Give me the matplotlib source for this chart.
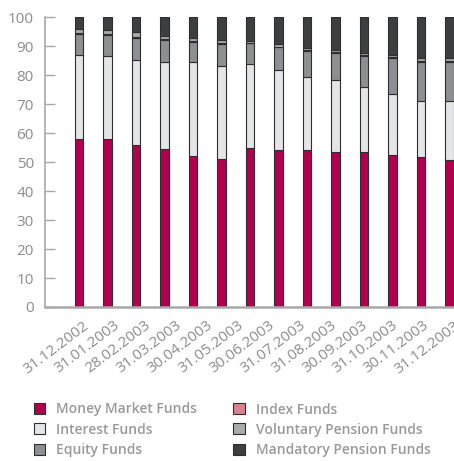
import matplotlib
matplotlib.use('Agg')
import matplotlib.pyplot as plt
import numpy as np

# dates printed under the axis (13 labels, 14 bars in the source chart)
dates = ['31.12.2002', '31.01.2003', '28.02.2003', '31.03.2003', '30.04.2003',
         '31.05.2003', '30.06.2003', '31.07.2003', '31.08.2003', '30.09.2003',
         '31.10.2003', '30.11.2003', '31.12.2003']

# share of each fund type, in %, bottom to top of each bar
money_market = [57.8, 57.8, 55.8, 54.4, 52.1, 50.9, 54.8, 54.0, 54.0, 53.5, 53.6, 52.5, 51.6, 50.6]
interest = [29.0, 28.6, 29.5, 30.0, 32.3, 32.1, 28.9, 27.8, 25.4, 24.8, 22.4, 20.9, 19.4, 20.4]
equity = [7.3, 7.4, 7.6, 7.6, 7.1, 7.7, 7.2, 7.7, 9.0, 9.4, 10.6, 12.4, 13.5, 13.4]
index = [0.3, 0.3, 0.3, 0.3, 0.3, 0.3, 0.3, 0.3, 0.3, 0.3, 0.3, 0.3, 0.3, 0.3]
voluntary = [1.6, 1.3, 1.5, 1.2, 1.1, 0.9, 0.6, 0.8, 0.7, 0.6, 0.8, 0.8, 1.2, 1.1]
mandatory = [4.0, 4.6, 5.3, 6.5, 7.1, 8.1, 8.2, 9.4, 10.6, 11.4, 12.3, 13.1, 14.0, 14.2]

series = [
    ('Money Market Funds', money_market, '#b3004e'),
    ('Interest Funds', interest, '#e4e5e7'),
    ('Equity Funds', equity, '#8e8f92'),
    ('Index Funds', index, '#d9818e'),
    ('Voluntary Pension Funds', voluntary, '#a9aaac'),
    ('Mandatory Pension Funds', mandatory, '#3d3e40'),
]

grey = '#8c8c8c'
fig = plt.figure(figsize=(4.54, 4.61), dpi=100)
ax = fig.add_axes([45 / 454, 154 / 461, 409 / 454, 290 / 461])

x = np.arange(len(money_market))
bottom = np.zeros(len(x))
handles = []
for name, vals, col in series:
    b = ax.bar(x, vals, width=0.29, bottom=bottom, color=col, edgecolor='#2e2e2e',
               linewidth=0.8, label=name)
    handles.append(b)
    bottom += np.array(vals)

ax.set_xlim(-1.19, 13.16)
ax.set_ylim(0, 100)
ax.set_yticks(range(0, 101, 10))
ax.tick_params(axis='y', direction='in', length=7, width=1, color='#a8a8a8',
               labelsize=11, labelcolor=grey, pad=8)
ax.set_xticks(np.linspace(0.14, 13.15, len(dates)))
ax.set_xticklabels(dates, rotation=37, ha='right', va='top', rotation_mode='anchor',
                   fontsize=11, color=grey, family='Open Sans')
ax.tick_params(axis='x', length=0, pad=8)
for lbl in ax.get_yticklabels():
    lbl.set_family('Open Sans')

for s in ['top', 'right']:
    ax.spines[s].set_visible(False)
ax.spines['left'].set_color('#a8a8a8')
ax.spines['left'].set_linewidth(1.2)
ax.spines['bottom'].set_color('#a8a8a8')
ax.spines['bottom'].set_linewidth(1.8)

leg = fig.legend(handles=handles, loc='upper left', bbox_to_anchor=(21 / 454, 1 - 390 / 461),
                 ncol=2, frameon=False,
                 handlelength=0.85, handleheight=0.85, handletextpad=0.8,
                 columnspacing=2.6, labelspacing=0.45,
                 prop={'family': 'Open Sans', 'weight': 'semibold', 'size': 10})
for t in leg.get_texts():
    t.set_color('#999999')

fig.savefig('out.png', dpi=100)
